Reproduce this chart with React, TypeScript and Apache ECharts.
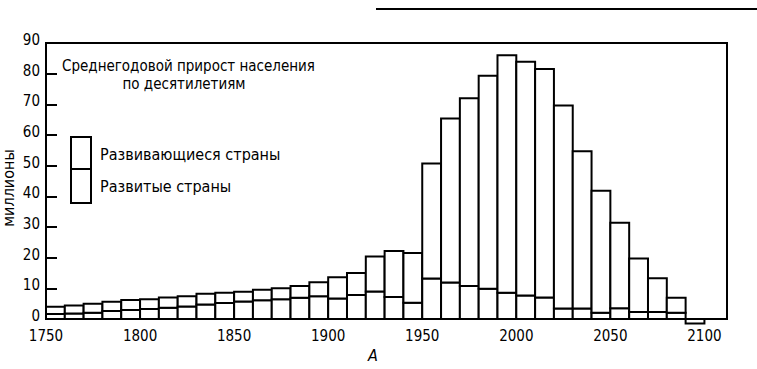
import React, { useEffect, useRef } from "react";
import * as echarts from "echarts";

const decades = [
  1750, 1760, 1770, 1780, 1790, 1800, 1810, 1820, 1830, 1840, 1850, 1860,
  1870, 1880, 1890, 1900, 1910, 1920, 1930, 1940, 1950, 1960, 1970, 1980,
  1990, 2000, 2010, 2020, 2030, 2040, 2050, 2060, 2070, 2080, 2090,
];

// Развитые страны (lower part of each bar), millions per year
const developed = [
  1.6, 1.8, 2.0, 2.6, 2.9, 3.3, 3.7, 4.1, 4.7, 5.2, 5.7, 6.1,
  6.4, 6.9, 7.4, 6.7, 7.8, 9.0, 7.2, 5.3, 13.2, 11.9, 10.8, 9.9,
  8.6, 7.7, 7.0, 3.4, 3.4, 2.0, 3.5, 2.3, 2.3, 2.0, -1.5,
];

// Развивающиеся страны (upper part of each bar), millions per year
const developing = [
  2.4, 2.6, 3.0, 3.0, 3.3, 3.1, 3.3, 3.3, 3.5, 3.4, 3.2, 3.4,
  3.6, 3.9, 4.6, 6.9, 7.2, 11.4, 15.0, 16.2, 37.5, 53.5, 61.2, 69.4,
  77.4, 76.2, 74.5, 66.2, 51.3, 39.8, 27.9, 17.4, 11.0, 4.9, 0,
];

const xLabels = [1750, 1800, 1850, 1900, 1950, 2000, 2050, 2100];
const yTicks = [0, 10, 20, 30, 40, 50, 60, 70, 80, 90];

const FONT = "'DejaVu Sans Condensed', 'Liberation Sans Narrow', 'DejaVu Sans', sans-serif";

export default function App() {
  const ref = useRef<HTMLDivElement>(null);

  useEffect(() => {
    if (!ref.current) return;
    const chart = echarts.init(ref.current, null, { renderer: "svg" });
    const data = decades.map((y, i) => [y, developed[i], developing[i]]);

    chart.setOption({
      animation: false,
      backgroundColor: "#ffffff",
      grid: {
        left: 46,
        right: 30,
        top: 43,
        bottom: 50,
        show: true,
        borderColor: "#000",
        borderWidth: 2,
        backgroundColor: "transparent",
      },
      xAxis: {
        type: "value",
        min: 1750,
        max: 2112,
        interval: 50,
        splitLine: { show: false },
        axisTick: { show: false },
        axisLine: { show: true, onZero: false, lineStyle: { color: "#000", width: 2 } },
        axisLabel: {
          color: "#000",
          fontFamily: FONT,
          fontSize: 15,
          lineHeight: 14,
          margin: 10,
          formatter: (v: number) => (xLabels.includes(v) ? String(v) : ""),
        },
      },
      yAxis: {
        type: "value",
        min: 0,
        max: 90,
        interval: 10,
        splitLine: { show: false },
        axisLine: { show: true, lineStyle: { color: "#000", width: 2 } },
        axisTick: { show: true, inside: true, length: 11, lineStyle: { color: "#000", width: 2 } },
        axisLabel: {
          color: "#000",
          fontFamily: FONT,
          fontSize: 15,
          lineHeight: 14,
          margin: 6,
          verticalAlign: "bottom",
          padding: [0, 0, -4, 0],
          formatter: (v: number) => (yTicks.includes(v) ? String(v) : ""),
        },
      },
      series: [
        {
          type: "custom",
          data,
          encode: { x: 0, y: 1 },
          renderItem: (params: any, api: any) => {
            const year = api.value(0);
            const d = api.value(1);
            const v = api.value(2);
            const a = api.coord([year, 0]);
            const b = api.coord([year + 10, d]);
            const c = api.coord([year + 10, d + v]);
            const style = { fill: "#fff", stroke: "#000", lineWidth: 2 };
            const children: any[] = [
              {
                type: "rect",
                shape: {
                  x: a[0],
                  y: Math.min(a[1], b[1]),
                  width: b[0] - a[0],
                  height: Math.abs(a[1] - b[1]),
                },
                style,
              },
            ];
            if (v > 0) {
              children.push({
                type: "rect",
                shape: {
                  x: a[0],
                  y: c[1],
                  width: b[0] - a[0],
                  height: b[1] - c[1],
                },
                style,
              });
            }
            return { type: "group", children };
          },
        },
      ],
      graphic: [
        {
          type: "line",
          shape: { x1: 376, y1: 9, x2: 757, y2: 9 },
          style: { stroke: "#000", lineWidth: 2 },
        },
        {
          type: "text",
          x: 62,
          y: 66,
          style: {
            text: "Среднегодовой прирост населения",
            font: `15px ${FONT}`,
            fill: "#000",
            verticalAlign: "middle",
            textAlign: "left",
          },
        },
        {
          type: "text",
          x: 184,
          y: 84,
          style: {
            text: "по десятилетиям",
            font: `15px ${FONT}`,
            fill: "#000",
            verticalAlign: "middle",
            textAlign: "center",
          },
        },
        {
          type: "rect",
          shape: { x: 71, y: 137, width: 20, height: 66 },
          style: { fill: "#fff", stroke: "#000", lineWidth: 2 },
        },
        {
          type: "line",
          shape: { x1: 71, y1: 169, x2: 91, y2: 169 },
          style: { stroke: "#000", lineWidth: 2 },
        },
        {
          type: "text",
          x: 100,
          y: 154,
          style: {
            text: "Развивающиеся страны",
            font: `16px ${FONT}`,
            fill: "#000",
            verticalAlign: "middle",
          },
        },
        {
          type: "text",
          x: 100,
          y: 186,
          style: {
            text: "Развитые страны",
            font: `16px ${FONT}`,
            fill: "#000",
            verticalAlign: "middle",
          },
        },
        {
          type: "text",
          x: 8,
          y: 188,
          rotation: Math.PI / 2,
          style: {
            text: "миллионы",
            font: `16px ${FONT}`,
            fill: "#000",
            verticalAlign: "middle",
            textAlign: "center",
          },
        },
        {
          type: "text",
          x: 373,
          y: 355,
          style: {
            text: "A",
            font: `italic 16px ${FONT}`,
            fill: "#000",
            verticalAlign: "middle",
            textAlign: "center",
          },
        },
      ],
    });

    return () => chart.dispose();
  }, []);

  return (
    <div
      ref={ref}
      style={{ position: "fixed", left: 0, top: 0, width: 757, height: 369, background: "#fff" }}
    />
  );
}
